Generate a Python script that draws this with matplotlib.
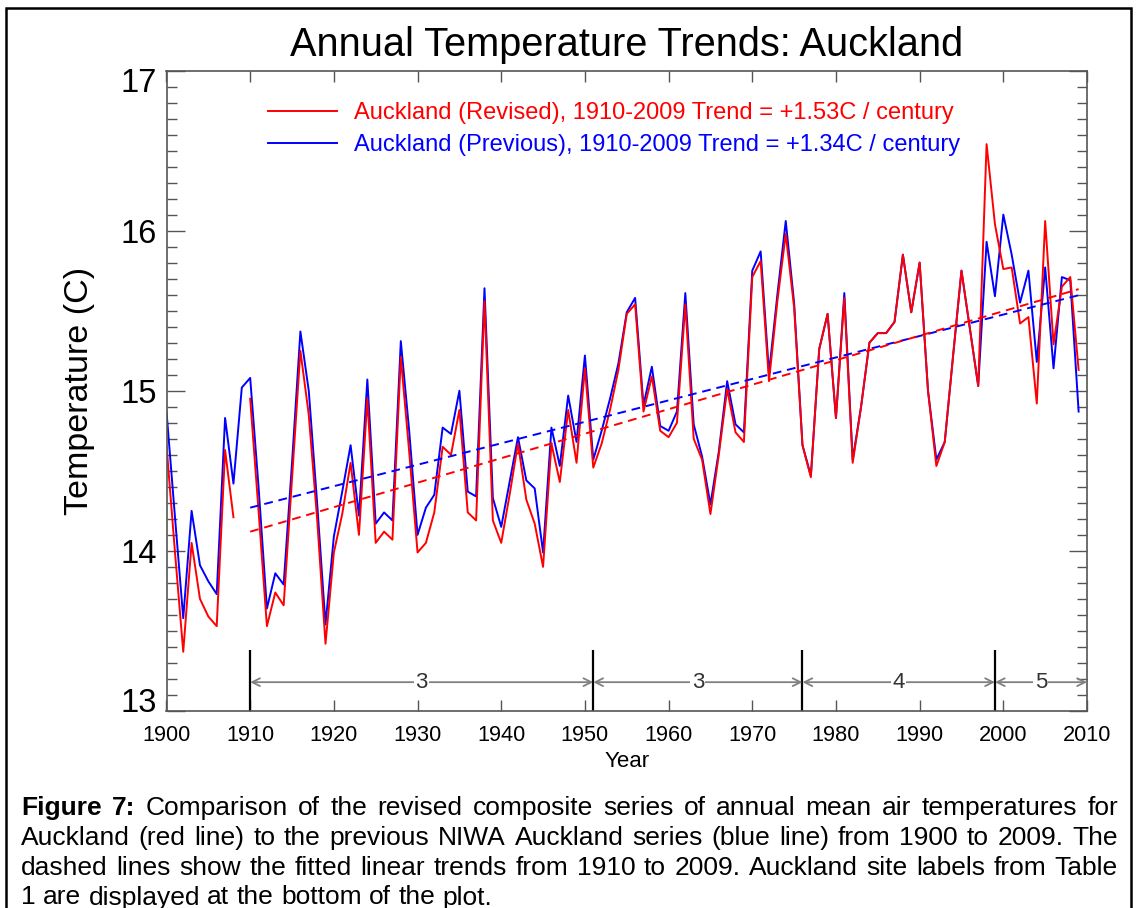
import numpy as np
import matplotlib
matplotlib.use("Agg")
import matplotlib.pyplot as plt
from matplotlib.lines import Line2D
from matplotlib.patches import Rectangle
from matplotlib.ticker import MultipleLocator
from matplotlib.transforms import ScaledTranslation

plt.rcParams['font.family'] = ['Liberation Sans', 'DejaVu Sans']

years = np.arange(1900, 2010)

# previous NIWA Auckland series, annual mean (C)
previous = [14.87, 14.22, 13.58, 14.25, 13.91, 13.81, 13.73, 14.83, 14.42, 15.02,
            15.08, 14.40, 13.64, 13.86, 13.79, 14.55, 15.37, 15.00, 14.30, 13.54,
            14.09, 14.37, 14.66, 14.22, 15.07, 14.17, 14.24, 14.19, 15.31, 14.75,
            14.10, 14.27, 14.35, 14.77, 14.73, 15.00, 14.37, 14.34, 15.64, 14.33,
            14.15, 14.43, 14.71, 14.44, 14.39, 13.99, 14.77, 14.53, 14.97, 14.68,
            15.22, 14.57, 14.75, 14.95, 15.17, 15.49, 15.58, 14.91, 15.15, 14.78,
            14.75, 14.87, 15.61, 14.79, 14.59, 14.29, 14.62, 15.06, 14.79, 14.74,
            15.75, 15.87, 15.11, 15.60, 16.06, 15.55, 14.66, 14.47, 15.26, 15.48,
            14.83, 15.61, 14.57, 14.90, 15.30, 15.36, 15.36, 15.43, 15.85, 15.49,
            15.80, 15.00, 14.57, 14.68, 15.22, 15.75, 15.39, 15.03, 15.93, 15.59,
            16.10, 15.85, 15.55, 15.75, 15.18, 15.77, 15.14, 15.71, 15.69, 14.87]

# revised composite series (no value for 1909)
revised = [14.66, 14.00, 13.37, 14.05, 13.70, 13.59, 13.53, 14.63, 14.21, np.nan,
           14.95, 14.25, 13.53, 13.74, 13.66, 14.45, 15.25, 14.85, 14.20, 13.42,
           13.99, 14.23, 14.55, 14.10, 14.95, 14.05, 14.12, 14.07, 15.21, 14.62,
           13.99, 14.05, 14.24, 14.65, 14.60, 14.88, 14.24, 14.19, 15.56, 14.19,
           14.05, 14.35, 14.67, 14.32, 14.17, 13.90, 14.67, 14.43, 14.88, 14.55,
           15.14, 14.52, 14.67, 14.88, 15.13, 15.48, 15.54, 14.87, 15.09, 14.75,
           14.71, 14.80, 15.54, 14.70, 14.57, 14.23, 14.60, 15.01, 14.74, 14.68,
           15.71, 15.81, 15.06, 15.56, 15.98, 15.52, 14.66, 14.46, 15.26, 15.48,
           14.83, 15.58, 14.55, 14.90, 15.30, 15.36, 15.36, 15.43, 15.85, 15.49,
           15.80, 15.00, 14.53, 14.68, 15.22, 15.75, 15.39, 15.03, 16.54, 16.04,
           15.76, 15.77, 15.42, 15.46, 14.92, 16.06, 15.29, 15.65, 15.71, 15.13]

trend_revised = 1.53   # C / century, 1910-2009
trend_previous = 1.34
trend_start, trend_end = 1910, 2009

site_years = [1910, 1951, 1976, 1999]
site_labels = ['3', '3', '4', '5']

previous = np.array(previous)
revised = np.array(revised)


def trend_line(vals, slope):
    # least squares intercept for a fixed slope over the trend period
    m = (years >= trend_start) & (years <= trend_end)
    x = years[m]
    y = vals[m]
    b = np.mean(y - slope / 100.0 * x)
    return x, b + slope / 100.0 * x


fig = plt.figure(figsize=(11.37, 9.08), dpi=100)
ax = fig.add_axes([166.5 / 1137, 1 - 711 / 908, (1087 - 166.5) / 1137, (711 - 70.5) / 908])

ax.plot(years, previous, color='#0000ff', lw=1.4)
ax.plot(years, revised, color='#ff0000', lw=1.4)

tx, ty = trend_line(previous, trend_previous)
ax.plot(tx, ty, color='#0000ff', lw=1.4, ls=(0, (4.5, 3)))
tx, ty = trend_line(revised, trend_revised)
ax.plot(tx, ty, color='#ff0000', lw=1.4, ls=(0, (4.5, 3)))

ax.set_xlim(1900, 2010)
ax.set_ylim(13, 17)

# site labels along the bottom
ax.vlines(site_years, 13.0, 13.38, color='black', lw=1.6)
ends = site_years[1:] + [2010]
for start, end, lab in zip(site_years, ends, site_labels):
    ax.annotate('', xy=(end, 13.18), xytext=(start, 13.18),
                arrowprops=dict(arrowstyle='<->', color='#808080', lw=1.3,
                                shrinkA=0, shrinkB=0, mutation_scale=14))
    ax.text((start + end) / 2, 13.18, lab, ha='center', va='center', fontsize=16,
            color='#333333', bbox=dict(facecolor='white', edgecolor='none', pad=1))

ax.set_xticks(np.arange(1900, 2011, 10))
ax.set_yticks([13, 14, 15, 16, 17])
ax.yaxis.set_minor_locator(MultipleLocator(0.1))
ax.tick_params(axis='x', which='major', direction='in', length=8, width=1,
               top=True, labelsize=15.7, pad=10, color='#555555')
ax.tick_params(axis='y', which='major', direction='in', length=13, width=1,
               right=True, labelsize=23.5, pad=7, color='#555555')
ax.tick_params(axis='y', which='minor', direction='in', length=7, width=1,
               right=True, color='#555555')
for s in ax.spines.values():
    s.set_color('#555555')
    s.set_linewidth(1.2)

# keep the end labels of the y axis inside the frame
ylabels = ax.get_yticklabels()
ylabels[0].set_transform(ylabels[0].get_transform() +
                         ScaledTranslation(0, 11 / 100, fig.dpi_scale_trans))
ylabels[-1].set_transform(ylabels[-1].get_transform() +
                          ScaledTranslation(0, -9 / 100, fig.dpi_scale_trans))

ax.set_xlabel('Year', fontsize=16)
ax.xaxis.set_label_coords(0.5, -0.063)
ax.set_ylabel('Temperature (C)', fontsize=24.5, va='center')
ax.yaxis.set_label_coords(-0.094, 0.5)
ax.set_title('Annual Temperature Trends: Auckland', fontsize=28.6, pad=10.4)

handles = [Line2D([], [], color='#ff0000', lw=1.4), Line2D([], [], color='#0000ff', lw=1.4)]
labels = ['Auckland (Revised), %d-%d Trend = +%.2fC / century' % (trend_start, trend_end, trend_revised),
          'Auckland (Previous), %d-%d Trend = +%.2fC / century' % (trend_start, trend_end, trend_previous)]
ax.legend(handles, labels, loc='upper left', bbox_to_anchor=(0.1103, 0.9506), frameon=False,
          fontsize=17, handlelength=2.9, handletextpad=0.75, labelspacing=0.41,
          borderpad=0, borderaxespad=0, labelcolor='linecolor')

# page frame
fig.add_artist(Rectangle((6 / 1137, -0.1), (1131 - 6) / 1137, 0.1 + (908 - 8) / 908,
                         fill=False, lw=1.8, ec='black', transform=fig.transFigure))

# caption, justified between left and right margins
cap_size = 19
cap_left, cap_right = 21, 1118
caption = [
    ([('Figure', 'bold'), ('7:', 'bold')] +
     [(w, 'normal') for w in 'Comparison of the revised composite series of annual mean air temperatures for'.split()], True),
    ([(w, 'normal') for w in 'Auckland (red line) to the previous NIWA Auckland series (blue line) from 1900 to 2009. The'.split()], True),
    ([(w, 'normal') for w in 'dashed lines show the fitted linear trends from 1910 to 2009. Auckland site labels from Table'.split()], True),
    ([(w, 'normal') for w in '1 are displayed at the bottom of the plot.'.split()], False),
]
baselines = [815, 845, 875, 904.5]

fig.canvas.draw()
renderer = fig.canvas.get_renderer()


def text_width(s, weight):
    t = fig.text(0, 0, s, fontsize=cap_size, weight=weight)
    w = t.get_window_extent(renderer).width
    t.remove()
    return w


space_w = text_width('a b', 'normal') - text_width('ab', 'normal')
for (words, justify), base in zip(caption, baselines):
    widths = [text_width(w, wt) for w, wt in words]
    if justify:
        gap = (cap_right - cap_left - sum(widths)) / (len(words) - 1)
    else:
        gap = space_w
    x = cap_left
    for (w, wt), wd in zip(words, widths):
        fig.text(x / 1137, 1 - base / 908, w, fontsize=cap_size, weight=wt,
                 ha='left', va='baseline')
        x += wd + gap

fig.savefig('out.png', dpi=100)
